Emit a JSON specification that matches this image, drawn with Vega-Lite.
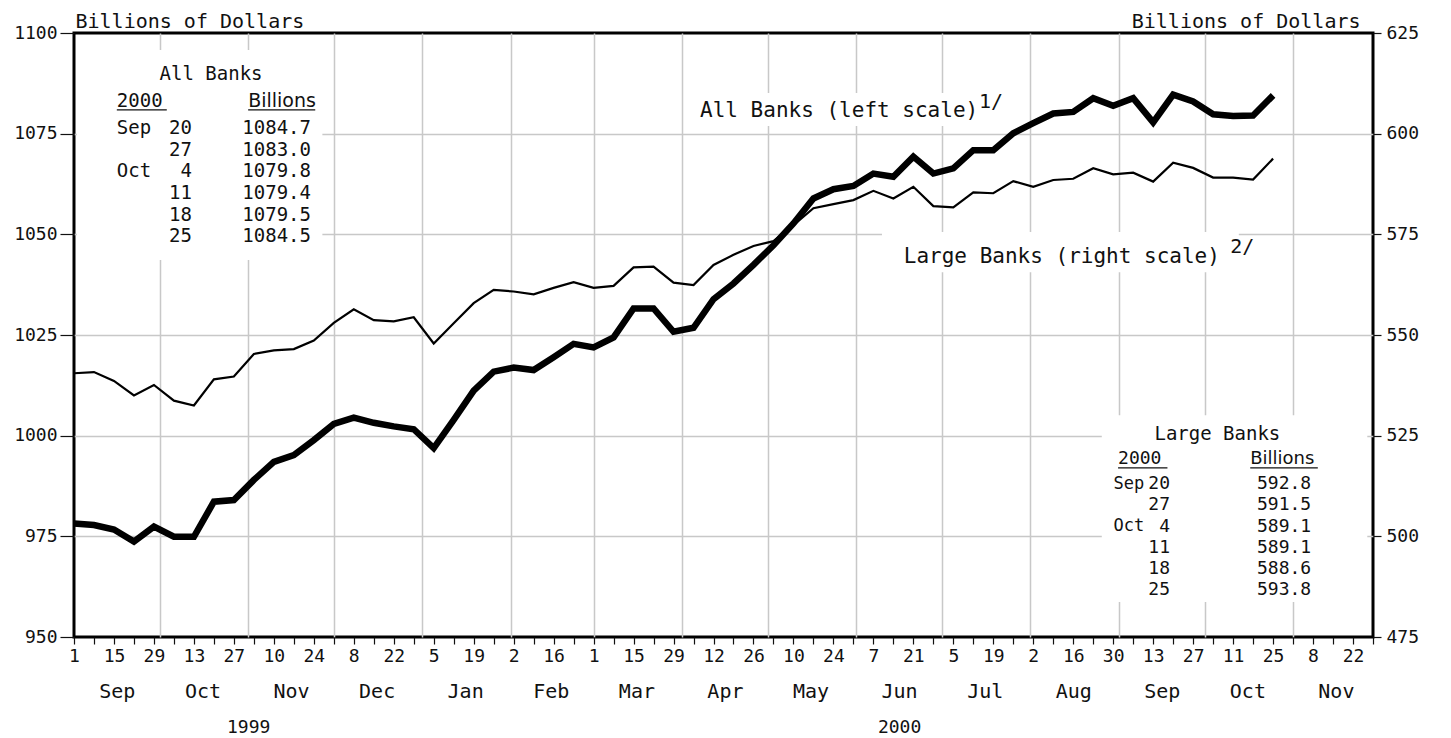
{
  "$schema": "https://vega.github.io/schema/vega-lite/v6.json",
  "width": 1299,
  "height": 604,
  "autosize": {"type": "none"},
  "padding": {"left": 74, "top": 33, "right": 78, "bottom": 101},
  "background": "white",
  "config": {
    "view": {"stroke": "black", "strokeWidth": 3},
    "font": "DejaVu Sans Mono",
    "axis": {"domain": false, "labelFont": "DejaVu Sans Mono", "labelColor": "#111", "tickColor": "#111", "gridColor": "#c8c8c8", "gridWidth": 1.5, "titleFont": "DejaVu Sans Mono", "titleFontWeight": "normal", "titleColor": "#111"},
    "text": {"font": "DejaVu Sans Mono", "color": "#111"}
  },
  "resolve": {"scale": {"y": "independent"}, "axis": {"x": "independent", "y": "independent"}},
  "datasets": {
    "banks": [
      {"date": "1999-09-01", "all": 978.2, "large": 540.5},
      {"date": "1999-09-08", "all": 977.8, "large": 540.8},
      {"date": "1999-09-15", "all": 976.7, "large": 538.6},
      {"date": "1999-09-22", "all": 973.7, "large": 535.0},
      {"date": "1999-09-29", "all": 977.4, "large": 537.6},
      {"date": "1999-10-06", "all": 974.9, "large": 533.7},
      {"date": "1999-10-13", "all": 974.9, "large": 532.5},
      {"date": "1999-10-20", "all": 983.6, "large": 539.0},
      {"date": "1999-10-27", "all": 984.0, "large": 539.7},
      {"date": "1999-11-03", "all": 989.0, "large": 545.3},
      {"date": "1999-11-10", "all": 993.5, "large": 546.2},
      {"date": "1999-11-17", "all": 995.2, "large": 546.5},
      {"date": "1999-11-24", "all": 998.9, "large": 548.6},
      {"date": "1999-12-01", "all": 1002.9, "large": 553.0},
      {"date": "1999-12-08", "all": 1004.5, "large": 556.4},
      {"date": "1999-12-15", "all": 1003.2, "large": 553.7},
      {"date": "1999-12-22", "all": 1002.3, "large": 553.4},
      {"date": "1999-12-29", "all": 1001.6, "large": 554.4},
      {"date": "2000-01-05", "all": 996.9, "large": 547.9},
      {"date": "2000-01-12", "all": 1003.9, "large": 552.9},
      {"date": "2000-01-19", "all": 1011.2, "large": 557.9},
      {"date": "2000-01-26", "all": 1015.9, "large": 561.2},
      {"date": "2000-02-02", "all": 1016.9, "large": 560.8},
      {"date": "2000-02-09", "all": 1016.3, "large": 560.1},
      {"date": "2000-02-16", "all": 1019.5, "large": 561.7},
      {"date": "2000-02-23", "all": 1022.8, "large": 563.1},
      {"date": "2000-03-01", "all": 1021.9, "large": 561.7},
      {"date": "2000-03-08", "all": 1024.4, "large": 562.2},
      {"date": "2000-03-15", "all": 1031.6, "large": 566.8},
      {"date": "2000-03-22", "all": 1031.6, "large": 567.0},
      {"date": "2000-03-29", "all": 1025.8, "large": 563.0},
      {"date": "2000-04-05", "all": 1026.8, "large": 562.4},
      {"date": "2000-04-12", "all": 1033.9, "large": 567.4},
      {"date": "2000-04-19", "all": 1037.8, "large": 569.9},
      {"date": "2000-04-26", "all": 1042.4, "large": 572.1},
      {"date": "2000-05-03", "all": 1047.3, "large": 573.3},
      {"date": "2000-05-10", "all": 1052.7, "large": 577.3},
      {"date": "2000-05-17", "all": 1058.9, "large": 581.5},
      {"date": "2000-05-24", "all": 1061.2, "large": 582.5},
      {"date": "2000-05-31", "all": 1062.0, "large": 583.5},
      {"date": "2000-06-07", "all": 1065.1, "large": 585.8},
      {"date": "2000-06-14", "all": 1064.3, "large": 583.9},
      {"date": "2000-06-21", "all": 1069.3, "large": 586.8},
      {"date": "2000-06-28", "all": 1065.1, "large": 582.0},
      {"date": "2000-07-05", "all": 1066.4, "large": 581.7},
      {"date": "2000-07-12", "all": 1070.9, "large": 585.4},
      {"date": "2000-07-19", "all": 1070.9, "large": 585.2},
      {"date": "2000-07-26", "all": 1075.1, "large": 588.2},
      {"date": "2000-08-02", "all": 1077.6, "large": 586.8},
      {"date": "2000-08-09", "all": 1080.0, "large": 588.5},
      {"date": "2000-08-16", "all": 1080.4, "large": 588.8},
      {"date": "2000-08-23", "all": 1083.8, "large": 591.4},
      {"date": "2000-08-30", "all": 1081.9, "large": 589.9},
      {"date": "2000-09-06", "all": 1083.8, "large": 590.3},
      {"date": "2000-09-13", "all": 1077.8, "large": 588.1},
      {"date": "2000-09-20", "all": 1084.7, "large": 592.8},
      {"date": "2000-09-27", "all": 1083.0, "large": 591.5},
      {"date": "2000-10-04", "all": 1079.8, "large": 589.1},
      {"date": "2000-10-11", "all": 1079.4, "large": 589.1},
      {"date": "2000-10-18", "all": 1079.5, "large": 588.6},
      {"date": "2000-10-25", "all": 1084.5, "large": 593.8}
    ]
  },
  "layer": [
    {
      "data": {"values": [{}]},
      "mark": {"type": "rect", "fill": "white"},
      "encoding": {
        "x": {"datum": {"year": 1999, "month": 9, "date": 2, "utc": true}, "type": "temporal",
          "scale": {"type": "utc", "nice": false, "domain": [{"year": 1999, "month": 9, "date": 1, "utc": true}, {"year": 2000, "month": 11, "date": 29, "utc": true}]},
          "axis": {"orient": "bottom", "values": [
            {"year": 1999, "month": 9, "date": 16, "utc": true}, {"year": 1999, "month": 10, "date": 16, "utc": true}, {"year": 1999, "month": 11, "date": 16, "utc": true}, {"year": 1999, "month": 12, "date": 16, "utc": true},
            {"year": 2000, "month": 1, "date": 16, "utc": true}, {"year": 2000, "month": 2, "date": 15, "utc": true}, {"year": 2000, "month": 3, "date": 16, "utc": true}, {"year": 2000, "month": 4, "date": 16, "utc": true},
            {"year": 2000, "month": 5, "date": 16, "utc": true}, {"year": 2000, "month": 6, "date": 16, "utc": true}, {"year": 2000, "month": 7, "date": 16, "utc": true}, {"year": 2000, "month": 8, "date": 16, "utc": true},
            {"year": 2000, "month": 9, "date": 16, "utc": true}, {"year": 2000, "month": 10, "date": 16, "utc": true}, {"year": 2000, "month": 11, "date": 16, "utc": true}],
            "labelExpr": "utcFormat(datum.value, '%b')", "ticks": false, "tickSize": 0, "labelPadding": 44, "labelFontSize": 20, "grid": false, "title": null, "labelOverlap": false, "labelBound": false, "labelFlush": false}},
        "x2": {"datum": {"year": 1999, "month": 11, "date": 27, "utc": true}},
        "y": {"datum": 1095.8, "type": "quantitative", "scale": {"domain": [950, 1100], "nice": false, "zero": false}, "axis": null},
        "y2": {"datum": 1043.6}
      }
    },
    {
      "data": {"values": [{}]},
      "mark": {"type": "rect", "fill": "white"},
      "encoding": {
        "x": {"datum": {"year": 2000, "month": 8, "date": 26, "utc": true}, "type": "temporal",
          "scale": {"type": "utc", "nice": false, "domain": [{"year": 1999, "month": 9, "date": 1, "utc": true}, {"year": 2000, "month": 11, "date": 29, "utc": true}]},
          "axis": {"orient": "bottom", "values": [{"year": 1999, "month": 11, "date": 1, "utc": true}, {"year": 2000, "month": 6, "date": 16, "utc": true}],
            "labelExpr": "utcFormat(datum.value, '%Y')", "ticks": false, "tickSize": 0, "labelPadding": 81, "labelFontSize": 18, "grid": false, "title": null, "labelOverlap": false, "labelBound": false, "labelFlush": false}},
        "x2": {"datum": {"year": 2000, "month": 11, "date": 27, "utc": true}},
        "y": {"datum": 1005.1, "type": "quantitative", "scale": {"domain": [950, 1100], "nice": false, "zero": false}, "axis": null},
        "y2": {"datum": 958.7}
      }
    },
    {
      "data": {"values": [{}]},
      "mark": {"type": "rect", "fill": "white"},
      "encoding": {
        "x": {"datum": {"year": 2000, "month": 6, "date": 10, "utc": true}, "type": "temporal",
          "scale": {"type": "utc", "nice": false, "domain": [{"year": 1999, "month": 9, "date": 1, "utc": true}, {"year": 2000, "month": 11, "date": 29, "utc": true}]},
          "axis": null},
        "x2": {"datum": {"year": 2000, "month": 10, "date": 13, "utc": true}},
        "y": {"datum": 1050.6, "type": "quantitative", "scale": {"domain": [950, 1100], "nice": false, "zero": false}, "axis": null},
        "y2": {"datum": 1040.6}
      }
    },
    {
      "data": {"values": [{}]},
      "mark": {"type": "rect", "fill": "white"},
      "encoding": {
        "x": {"datum": {"year": 2000, "month": 4, "date": 7, "utc": true}, "type": "temporal",
          "scale": {"type": "utc", "nice": false, "domain": [{"year": 1999, "month": 9, "date": 1, "utc": true}, {"year": 2000, "month": 11, "date": 29, "utc": true}]},
          "axis": null},
        "x2": {"datum": {"year": 2000, "month": 7, "date": 27, "utc": true}},
        "y": {"datum": 1085.1, "type": "quantitative", "scale": {"domain": [950, 1100], "nice": false, "zero": false}, "axis": null},
        "y2": {"datum": 1076.9}
      }
    },
    {
      "data": {"name": "banks"},
      "mark": {"type": "line", "color": "black", "strokeWidth": 2.2},
      "encoding": {
        "x": {"field": "date", "type": "temporal",
          "scale": {"type": "utc", "nice": false, "domain": [{"year": 1999, "month": 9, "date": 1, "utc": true}, {"year": 2000, "month": 11, "date": 29, "utc": true}]},
          "axis": {"orient": "bottom", "values": [
            {"year": 1999, "month": 10, "date": 1, "utc": true}, {"year": 1999, "month": 11, "date": 1, "utc": true}, {"year": 1999, "month": 12, "date": 1, "utc": true},
            {"year": 2000, "month": 1, "date": 1, "utc": true}, {"year": 2000, "month": 2, "date": 1, "utc": true}, {"year": 2000, "month": 3, "date": 1, "utc": true}, {"year": 2000, "month": 4, "date": 1, "utc": true},
            {"year": 2000, "month": 5, "date": 1, "utc": true}, {"year": 2000, "month": 6, "date": 1, "utc": true}, {"year": 2000, "month": 7, "date": 1, "utc": true}, {"year": 2000, "month": 8, "date": 1, "utc": true},
            {"year": 2000, "month": 9, "date": 1, "utc": true}, {"year": 2000, "month": 10, "date": 1, "utc": true}, {"year": 2000, "month": 11, "date": 1, "utc": true}],
            "grid": true, "ticks": false, "labels": false, "title": null}},
        "y": {"field": "large", "type": "quantitative", "scale": {"domain": [475, 625], "nice": false, "zero": false},
          "axis": {"orient": "right", "values": [475, 500, 525, 550, 575, 600, 625], "format": "d", "grid": false, "tickSize": 8, "tickWidth": 1.2, "labelPadding": 5, "labelFontSize": 18,
            "title": "Billions of Dollars", "titleAngle": 0, "titleAlign": "right", "titleBaseline": "alphabetic", "titleX": -13, "titleY": -6, "titleFontSize": 20}}
      }
    },
    {
      "data": {"name": "banks"},
      "mark": {"type": "line", "color": "black", "strokeWidth": 6.5},
      "encoding": {
        "x": {"field": "date", "type": "temporal",
          "scale": {"type": "utc", "nice": false, "domain": [{"year": 1999, "month": 9, "date": 1, "utc": true}, {"year": 2000, "month": 11, "date": 29, "utc": true}]},
          "axis": {"orient": "bottom", "values": [
            {"year": 1999, "month": 9, "date": 1, "utc": true}, {"year": 1999, "month": 9, "date": 8, "utc": true}, {"year": 1999, "month": 9, "date": 15, "utc": true}, {"year": 1999, "month": 9, "date": 22, "utc": true}, {"year": 1999, "month": 9, "date": 29, "utc": true},
            {"year": 1999, "month": 10, "date": 6, "utc": true}, {"year": 1999, "month": 10, "date": 13, "utc": true}, {"year": 1999, "month": 10, "date": 20, "utc": true}, {"year": 1999, "month": 10, "date": 27, "utc": true},
            {"year": 1999, "month": 11, "date": 3, "utc": true}, {"year": 1999, "month": 11, "date": 10, "utc": true}, {"year": 1999, "month": 11, "date": 17, "utc": true}, {"year": 1999, "month": 11, "date": 24, "utc": true},
            {"year": 1999, "month": 12, "date": 1, "utc": true}, {"year": 1999, "month": 12, "date": 8, "utc": true}, {"year": 1999, "month": 12, "date": 15, "utc": true}, {"year": 1999, "month": 12, "date": 22, "utc": true}, {"year": 1999, "month": 12, "date": 29, "utc": true},
            {"year": 2000, "month": 1, "date": 5, "utc": true}, {"year": 2000, "month": 1, "date": 12, "utc": true}, {"year": 2000, "month": 1, "date": 19, "utc": true}, {"year": 2000, "month": 1, "date": 26, "utc": true},
            {"year": 2000, "month": 2, "date": 2, "utc": true}, {"year": 2000, "month": 2, "date": 9, "utc": true}, {"year": 2000, "month": 2, "date": 16, "utc": true}, {"year": 2000, "month": 2, "date": 23, "utc": true},
            {"year": 2000, "month": 3, "date": 1, "utc": true}, {"year": 2000, "month": 3, "date": 8, "utc": true}, {"year": 2000, "month": 3, "date": 15, "utc": true}, {"year": 2000, "month": 3, "date": 22, "utc": true}, {"year": 2000, "month": 3, "date": 29, "utc": true},
            {"year": 2000, "month": 4, "date": 5, "utc": true}, {"year": 2000, "month": 4, "date": 12, "utc": true}, {"year": 2000, "month": 4, "date": 19, "utc": true}, {"year": 2000, "month": 4, "date": 26, "utc": true},
            {"year": 2000, "month": 5, "date": 3, "utc": true}, {"year": 2000, "month": 5, "date": 10, "utc": true}, {"year": 2000, "month": 5, "date": 17, "utc": true}, {"year": 2000, "month": 5, "date": 24, "utc": true}, {"year": 2000, "month": 5, "date": 31, "utc": true},
            {"year": 2000, "month": 6, "date": 7, "utc": true}, {"year": 2000, "month": 6, "date": 14, "utc": true}, {"year": 2000, "month": 6, "date": 21, "utc": true}, {"year": 2000, "month": 6, "date": 28, "utc": true},
            {"year": 2000, "month": 7, "date": 5, "utc": true}, {"year": 2000, "month": 7, "date": 12, "utc": true}, {"year": 2000, "month": 7, "date": 19, "utc": true}, {"year": 2000, "month": 7, "date": 26, "utc": true},
            {"year": 2000, "month": 8, "date": 2, "utc": true}, {"year": 2000, "month": 8, "date": 9, "utc": true}, {"year": 2000, "month": 8, "date": 16, "utc": true}, {"year": 2000, "month": 8, "date": 23, "utc": true}, {"year": 2000, "month": 8, "date": 30, "utc": true},
            {"year": 2000, "month": 9, "date": 6, "utc": true}, {"year": 2000, "month": 9, "date": 13, "utc": true}, {"year": 2000, "month": 9, "date": 20, "utc": true}, {"year": 2000, "month": 9, "date": 27, "utc": true},
            {"year": 2000, "month": 10, "date": 4, "utc": true}, {"year": 2000, "month": 10, "date": 11, "utc": true}, {"year": 2000, "month": 10, "date": 18, "utc": true}, {"year": 2000, "month": 10, "date": 25, "utc": true},
            {"year": 2000, "month": 11, "date": 1, "utc": true}, {"year": 2000, "month": 11, "date": 8, "utc": true}, {"year": 2000, "month": 11, "date": 15, "utc": true}, {"year": 2000, "month": 11, "date": 22, "utc": true}, {"year": 2000, "month": 11, "date": 29, "utc": true}],
            "labelExpr": "(round((datum.value - utc(1999, 8, 1)) / 604800000) % 2 == 0) ? utcFormat(datum.value, '%-d') : ''",
            "tickSize": 7, "tickWidth": 1.2, "labelPadding": 3, "labelFontSize": 18, "grid": false, "title": null, "labelOverlap": false, "labelBound": false, "labelFlush": false}},
        "y": {"field": "all", "type": "quantitative", "scale": {"domain": [950, 1100], "nice": false, "zero": false},
          "axis": {"orient": "left", "values": [950, 975, 1000, 1025, 1050, 1075, 1100], "format": "d", "grid": true,
            "gridOpacity": {"condition": {"test": "datum.value == 950 || datum.value == 1100", "value": 0}, "value": 1},
            "tickSize": 14, "tickWidth": 1.2, "labelPadding": 3, "labelFontSize": 18,
            "title": "Billions of Dollars", "titleAngle": 0, "titleAlign": "left", "titleBaseline": "alphabetic", "titleX": 1, "titleY": -6, "titleFontSize": 20}}
      }
    },
    {
      "data": {"values": [{}]},
      "mark": {"type": "text", "text": "All Banks", "align": "center", "baseline": "middle", "fontSize": 19},
      "encoding": {
        "x": {"datum": {"year": 1999, "month": 10, "date": 19, "utc": true}, "type": "temporal", "scale": {"type": "utc", "nice": false, "domain": [{"year": 1999, "month": 9, "date": 1, "utc": true}, {"year": 2000, "month": 11, "date": 29, "utc": true}]}, "axis": null},
        "y": {"datum": 1089.8, "type": "quantitative", "scale": {"domain": [950, 1100], "nice": false, "zero": false}, "axis": null}
      }
    },
    {
      "data": {"values": [{}]},
      "mark": {"type": "text", "text": "2000", "align": "left", "baseline": "middle", "fontSize": 19},
      "encoding": {
        "x": {"datum": {"year": 1999, "month": 9, "date": 16, "utc": true}, "type": "temporal", "scale": {"type": "utc", "nice": false, "domain": [{"year": 1999, "month": 9, "date": 1, "utc": true}, {"year": 2000, "month": 11, "date": 29, "utc": true}]}, "axis": null},
        "y": {"datum": 1083.1, "type": "quantitative", "scale": {"domain": [950, 1100], "nice": false, "zero": false}, "axis": null}
      }
    },
    {
      "data": {"values": [{}]},
      "mark": {"type": "text", "text": "Billions", "align": "left", "baseline": "middle", "fontSize": 19, "font": "DejaVu Sans"},
      "encoding": {
        "x": {"datum": {"year": 1999, "month": 11, "date": 1, "utc": true}, "type": "temporal", "scale": {"type": "utc", "nice": false, "domain": [{"year": 1999, "month": 9, "date": 1, "utc": true}, {"year": 2000, "month": 11, "date": 29, "utc": true}]}, "axis": null},
        "y": {"datum": 1083.1, "type": "quantitative", "scale": {"domain": [950, 1100], "nice": false, "zero": false}, "axis": null}
      }
    },
    {
      "data": {"values": [{}]},
      "mark": {"type": "rule", "color": "#111", "strokeWidth": 1.3},
      "encoding": {
        "x": {"datum": {"year": 1999, "month": 9, "date": 16, "utc": true}, "type": "temporal", "scale": {"type": "utc", "nice": false, "domain": [{"year": 1999, "month": 9, "date": 1, "utc": true}, {"year": 2000, "month": 11, "date": 29, "utc": true}]}, "axis": null},
        "x2": {"datum": {"year": 1999, "month": 10, "date": 3, "hours": 12, "utc": true}},
        "y": {"datum": 1080.9, "type": "quantitative", "scale": {"domain": [950, 1100], "nice": false, "zero": false}, "axis": null}
      }
    },
    {
      "data": {"values": [{}]},
      "mark": {"type": "rule", "color": "#111", "strokeWidth": 1.3},
      "encoding": {
        "x": {"datum": {"year": 1999, "month": 11, "date": 1, "utc": true}, "type": "temporal", "scale": {"type": "utc", "nice": false, "domain": [{"year": 1999, "month": 9, "date": 1, "utc": true}, {"year": 2000, "month": 11, "date": 29, "utc": true}]}, "axis": null},
        "x2": {"datum": {"year": 1999, "month": 11, "date": 24, "hours": 12, "utc": true}},
        "y": {"datum": 1080.9, "type": "quantitative", "scale": {"domain": [950, 1100], "nice": false, "zero": false}, "axis": null}
      }
    },
    {
      "data": {"values": [{}]},
      "mark": {"type": "text", "text": "Sep", "align": "left", "baseline": "top", "fontSize": 19},
      "encoding": {
        "x": {"datum": {"year": 1999, "month": 9, "date": 16, "utc": true}, "type": "temporal", "scale": {"type": "utc", "nice": false, "domain": [{"year": 1999, "month": 9, "date": 1, "utc": true}, {"year": 2000, "month": 11, "date": 29, "utc": true}]}, "axis": null},
        "y": {"datum": 1078.6, "type": "quantitative", "scale": {"domain": [950, 1100], "nice": false, "zero": false}, "axis": null}
      }
    },
    {
      "data": {"values": [{}]},
      "mark": {"type": "text", "text": "Oct", "align": "left", "baseline": "top", "fontSize": 19},
      "encoding": {
        "x": {"datum": {"year": 1999, "month": 9, "date": 16, "utc": true}, "type": "temporal", "scale": {"type": "utc", "nice": false, "domain": [{"year": 1999, "month": 9, "date": 1, "utc": true}, {"year": 2000, "month": 11, "date": 29, "utc": true}]}, "axis": null},
        "y": {"datum": 1067.9, "type": "quantitative", "scale": {"domain": [950, 1100], "nice": false, "zero": false}, "axis": null}
      }
    },
    {
      "data": {"values": [{}]},
      "mark": {"type": "text", "text": ["20", "27", "4", "11", "18", "25"], "align": "right", "baseline": "top", "fontSize": 19, "lineHeight": 21.6},
      "encoding": {
        "x": {"datum": {"year": 1999, "month": 10, "date": 12, "hours": 8, "utc": true}, "type": "temporal", "scale": {"type": "utc", "nice": false, "domain": [{"year": 1999, "month": 9, "date": 1, "utc": true}, {"year": 2000, "month": 11, "date": 29, "utc": true}]}, "axis": null},
        "y": {"datum": 1078.6, "type": "quantitative", "scale": {"domain": [950, 1100], "nice": false, "zero": false}, "axis": null}
      }
    },
    {
      "data": {"values": [{}]},
      "mark": {"type": "text", "text": ["1084.7", "1083.0", "1079.8", "1079.4", "1079.5", "1084.5"], "align": "right", "baseline": "top", "fontSize": 19, "lineHeight": 21.6},
      "encoding": {
        "x": {"datum": {"year": 1999, "month": 11, "date": 23, "utc": true}, "type": "temporal", "scale": {"type": "utc", "nice": false, "domain": [{"year": 1999, "month": 9, "date": 1, "utc": true}, {"year": 2000, "month": 11, "date": 29, "utc": true}]}, "axis": null},
        "y": {"datum": 1078.6, "type": "quantitative", "scale": {"domain": [950, 1100], "nice": false, "zero": false}, "axis": null}
      }
    },
    {
      "data": {"values": [{}]},
      "mark": {"type": "text", "text": "Large Banks", "align": "center", "baseline": "middle", "fontSize": 19},
      "encoding": {
        "x": {"datum": {"year": 2000, "month": 10, "date": 5, "hours": 12, "utc": true}, "type": "temporal", "scale": {"type": "utc", "nice": false, "domain": [{"year": 1999, "month": 9, "date": 1, "utc": true}, {"year": 2000, "month": 11, "date": 29, "utc": true}]}, "axis": null},
        "y": {"datum": 1000.4, "type": "quantitative", "scale": {"domain": [950, 1100], "nice": false, "zero": false}, "axis": null}
      }
    },
    {
      "data": {"values": [{}]},
      "mark": {"type": "text", "text": "2000", "align": "left", "baseline": "middle", "fontSize": 18},
      "encoding": {
        "x": {"datum": {"year": 2000, "month": 8, "date": 31, "hours": 17, "utc": true}, "type": "temporal", "scale": {"type": "utc", "nice": false, "domain": [{"year": 1999, "month": 9, "date": 1, "utc": true}, {"year": 2000, "month": 11, "date": 29, "utc": true}]}, "axis": null},
        "y": {"datum": 994.2, "type": "quantitative", "scale": {"domain": [950, 1100], "nice": false, "zero": false}, "axis": null}
      }
    },
    {
      "data": {"values": [{}]},
      "mark": {"type": "text", "text": "Billions", "align": "left", "baseline": "middle", "fontSize": 18, "font": "DejaVu Sans"},
      "encoding": {
        "x": {"datum": {"year": 2000, "month": 10, "date": 17, "utc": true}, "type": "temporal", "scale": {"type": "utc", "nice": false, "domain": [{"year": 1999, "month": 9, "date": 1, "utc": true}, {"year": 2000, "month": 11, "date": 29, "utc": true}]}, "axis": null},
        "y": {"datum": 994.2, "type": "quantitative", "scale": {"domain": [950, 1100], "nice": false, "zero": false}, "axis": null}
      }
    },
    {
      "data": {"values": [{}]},
      "mark": {"type": "rule", "color": "#111", "strokeWidth": 1.3},
      "encoding": {
        "x": {"datum": {"year": 2000, "month": 8, "date": 31, "hours": 17, "utc": true}, "type": "temporal", "scale": {"type": "utc", "nice": false, "domain": [{"year": 1999, "month": 9, "date": 1, "utc": true}, {"year": 2000, "month": 11, "date": 29, "utc": true}]}, "axis": null},
        "x2": {"datum": {"year": 2000, "month": 9, "date": 18, "utc": true}},
        "y": {"datum": 992.0, "type": "quantitative", "scale": {"domain": [950, 1100], "nice": false, "zero": false}, "axis": null}
      }
    },
    {
      "data": {"values": [{}]},
      "mark": {"type": "rule", "color": "#111", "strokeWidth": 1.3},
      "encoding": {
        "x": {"datum": {"year": 2000, "month": 10, "date": 17, "utc": true}, "type": "temporal", "scale": {"type": "utc", "nice": false, "domain": [{"year": 1999, "month": 9, "date": 1, "utc": true}, {"year": 2000, "month": 11, "date": 29, "utc": true}]}, "axis": null},
        "x2": {"datum": {"year": 2000, "month": 11, "date": 9, "hours": 16, "utc": true}},
        "y": {"datum": 992.0, "type": "quantitative", "scale": {"domain": [950, 1100], "nice": false, "zero": false}, "axis": null}
      }
    },
    {
      "data": {"values": [{}]},
      "mark": {"type": "text", "text": "Sep", "align": "left", "baseline": "top", "fontSize": 17},
      "encoding": {
        "x": {"datum": {"year": 2000, "month": 8, "date": 30, "hours": 2, "utc": true}, "type": "temporal", "scale": {"type": "utc", "nice": false, "domain": [{"year": 1999, "month": 9, "date": 1, "utc": true}, {"year": 2000, "month": 11, "date": 29, "utc": true}]}, "axis": null},
        "y": {"datum": 990.0, "type": "quantitative", "scale": {"domain": [950, 1100], "nice": false, "zero": false}, "axis": null}
      }
    },
    {
      "data": {"values": [{}]},
      "mark": {"type": "text", "text": "Oct", "align": "left", "baseline": "top", "fontSize": 17},
      "encoding": {
        "x": {"datum": {"year": 2000, "month": 8, "date": 30, "hours": 2, "utc": true}, "type": "temporal", "scale": {"type": "utc", "nice": false, "domain": [{"year": 1999, "month": 9, "date": 1, "utc": true}, {"year": 2000, "month": 11, "date": 29, "utc": true}]}, "axis": null},
        "y": {"datum": 979.5, "type": "quantitative", "scale": {"domain": [950, 1100], "nice": false, "zero": false}, "axis": null}
      }
    },
    {
      "data": {"values": [{}]},
      "mark": {"type": "text", "text": ["20", "27", "4", "11", "18", "25"], "align": "right", "baseline": "top", "fontSize": 18, "lineHeight": 21.2},
      "encoding": {
        "x": {"datum": {"year": 2000, "month": 9, "date": 18, "hours": 22, "utc": true}, "type": "temporal", "scale": {"type": "utc", "nice": false, "domain": [{"year": 1999, "month": 9, "date": 1, "utc": true}, {"year": 2000, "month": 11, "date": 29, "utc": true}]}, "axis": null},
        "y": {"datum": 990.2, "type": "quantitative", "scale": {"domain": [950, 1100], "nice": false, "zero": false}, "axis": null}
      }
    },
    {
      "data": {"values": [{}]},
      "mark": {"type": "text", "text": ["592.8", "591.5", "589.1", "589.1", "588.6", "593.8"], "align": "right", "baseline": "top", "fontSize": 18, "lineHeight": 21.2},
      "encoding": {
        "x": {"datum": {"year": 2000, "month": 11, "date": 7, "hours": 8, "utc": true}, "type": "temporal", "scale": {"type": "utc", "nice": false, "domain": [{"year": 1999, "month": 9, "date": 1, "utc": true}, {"year": 2000, "month": 11, "date": 29, "utc": true}]}, "axis": null},
        "y": {"datum": 990.2, "type": "quantitative", "scale": {"domain": [950, 1100], "nice": false, "zero": false}, "axis": null}
      }
    },
    {
      "data": {"values": [{}]},
      "mark": {"type": "text", "text": "All Banks (left scale)", "align": "center", "baseline": "middle", "fontSize": 21},
      "encoding": {
        "x": {"datum": {"year": 2000, "month": 5, "date": 26, "utc": true}, "type": "temporal", "scale": {"type": "utc", "nice": false, "domain": [{"year": 1999, "month": 9, "date": 1, "utc": true}, {"year": 2000, "month": 11, "date": 29, "utc": true}]}, "axis": null},
        "y": {"datum": 1080.6, "type": "quantitative", "scale": {"domain": [950, 1100], "nice": false, "zero": false}, "axis": null}
      }
    },
    {
      "data": {"values": [{}]},
      "mark": {"type": "text", "text": "1/", "align": "left", "baseline": "middle", "fontSize": 20},
      "encoding": {
        "x": {"datum": {"year": 2000, "month": 7, "date": 14, "utc": true}, "type": "temporal", "scale": {"type": "utc", "nice": false, "domain": [{"year": 1999, "month": 9, "date": 1, "utc": true}, {"year": 2000, "month": 11, "date": 29, "utc": true}]}, "axis": null},
        "y": {"datum": 1082.9, "type": "quantitative", "scale": {"domain": [950, 1100], "nice": false, "zero": false}, "axis": null}
      }
    },
    {
      "data": {"values": [{}]},
      "mark": {"type": "text", "text": "Large Banks (right scale)", "align": "center", "baseline": "middle", "fontSize": 21},
      "encoding": {
        "x": {"datum": {"year": 2000, "month": 8, "date": 12, "utc": true}, "type": "temporal", "scale": {"type": "utc", "nice": false, "domain": [{"year": 1999, "month": 9, "date": 1, "utc": true}, {"year": 2000, "month": 11, "date": 29, "utc": true}]}, "axis": null},
        "y": {"datum": 1044.4, "type": "quantitative", "scale": {"domain": [950, 1100], "nice": false, "zero": false}, "axis": null}
      }
    },
    {
      "data": {"values": [{}]},
      "mark": {"type": "text", "text": "2/", "align": "left", "baseline": "middle", "fontSize": 20},
      "encoding": {
        "x": {"datum": {"year": 2000, "month": 10, "date": 10, "utc": true}, "type": "temporal", "scale": {"type": "utc", "nice": false, "domain": [{"year": 1999, "month": 9, "date": 1, "utc": true}, {"year": 2000, "month": 11, "date": 29, "utc": true}]}, "axis": null},
        "y": {"datum": 1046.9, "type": "quantitative", "scale": {"domain": [950, 1100], "nice": false, "zero": false}, "axis": null}
      }
    }
  ]
}
